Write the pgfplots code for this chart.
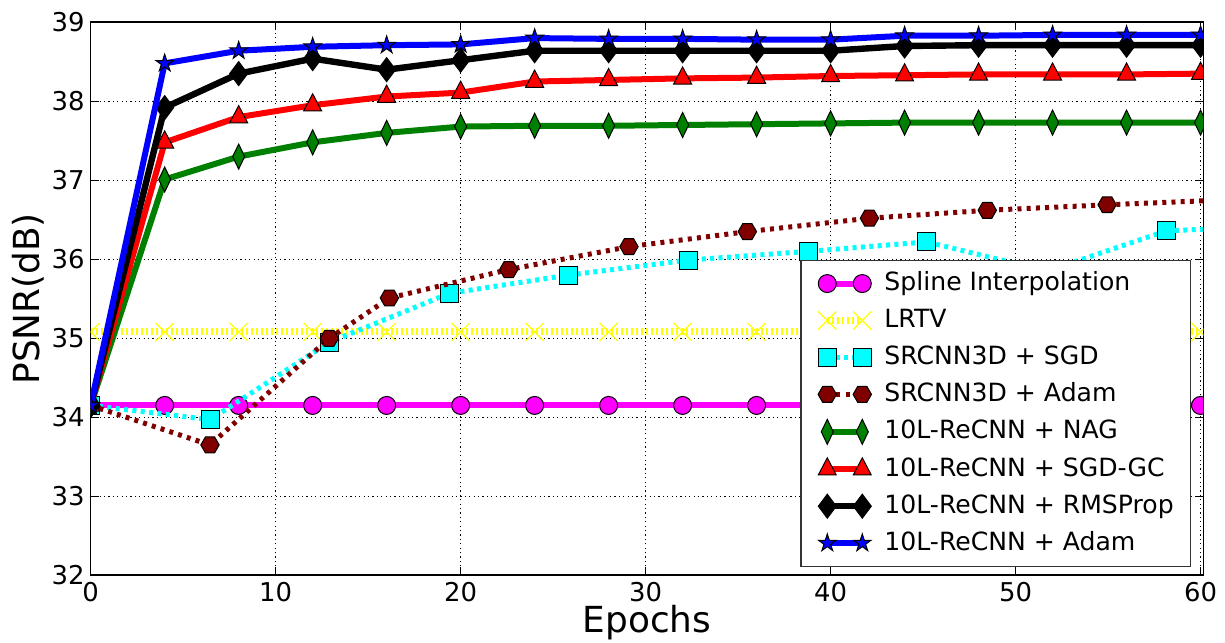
\documentclass[border=0pt]{standalone}
\usepackage{fontspec}
\setmainfont{DejaVu Sans}
\usepackage{pgfplots}
\pgfplotsset{compat=1.18}
\pgfdeclareplotmark{hexagon}{%
  \pgfpathmoveto{\pgfqpointpolar{0}{\pgfplotmarksize}}%
  \pgfpathlineto{\pgfqpointpolar{60}{\pgfplotmarksize}}%
  \pgfpathlineto{\pgfqpointpolar{120}{\pgfplotmarksize}}%
  \pgfpathlineto{\pgfqpointpolar{180}{\pgfplotmarksize}}%
  \pgfpathlineto{\pgfqpointpolar{240}{\pgfplotmarksize}}%
  \pgfpathlineto{\pgfqpointpolar{300}{\pgfplotmarksize}}%
  \pgfpathclose
  \pgfusepathqfillstroke}
\pgfdeclareplotmark{fstar}{%
  \pgfpathmoveto{\pgfqpointpolar{90}{\pgfplotmarksize}}%
  \pgfpathlineto{\pgfqpointpolar{126}{0.382\pgfplotmarksize}}%
  \pgfpathlineto{\pgfqpointpolar{162}{\pgfplotmarksize}}%
  \pgfpathlineto{\pgfqpointpolar{198}{0.382\pgfplotmarksize}}%
  \pgfpathlineto{\pgfqpointpolar{234}{\pgfplotmarksize}}%
  \pgfpathlineto{\pgfqpointpolar{270}{0.382\pgfplotmarksize}}%
  \pgfpathlineto{\pgfqpointpolar{306}{\pgfplotmarksize}}%
  \pgfpathlineto{\pgfqpointpolar{342}{0.382\pgfplotmarksize}}%
  \pgfpathlineto{\pgfqpointpolar{18}{\pgfplotmarksize}}%
  \pgfpathlineto{\pgfqpointpolar{54}{0.382\pgfplotmarksize}}%
  \pgfpathclose
  \pgfusepathqfillstroke}
\definecolor{maroon}{rgb}{0.5,0,0}
\definecolor{dgreen}{rgb}{0,0.5,0}
\definecolor{mpmagenta}{rgb}{1,0,1}
\definecolor{mpcyan}{rgb}{0,1,1}
\definecolor{mpyellow}{rgb}{1,1,0}
\definecolor{mpred}{rgb}{1,0,0}
\definecolor{mpblue}{rgb}{0,0,1}
\begin{document}
\begin{tikzpicture}
\begin{axis}[
  scale only axis,
  width=556.3bp, height=276.5bp,
  xmin=0, xmax=60.15, ymin=32, ymax=39,
  xtick={0,10,...,60}, ytick={32,...,39},
  tick align=inside, major tick length=4bp,
  xtick pos=both, ytick pos=both,
  axis line style={line width=0.8bp},
  grid=major,
  grid style={black, line width=0.4bp, dash pattern=on 0.6bp off 1.6bp},
  tick style={black, line width=0.5bp},
  /pgf/number format/assume math mode=true,
  ticklabel style={font=\fontsize{13}{15}\selectfont},
  xticklabel style={inner sep=0pt, anchor=north, yshift=-3.2bp},
  yticklabel style={inner sep=0pt, anchor=east, xshift=-2.9bp},
  xlabel={Epochs}, ylabel={PSNR(dB)},
  label style={font=\fontsize{18}{21}\selectfont, inner sep=0pt},
  xlabel style={at={(axis description cs:0.5,0)}, anchor=base, yshift=-28.85bp},
  ylabel style={at={(axis description cs:0,0.5)}, anchor=base, yshift=25.8bp},
  clip marker paths=true,
  legend cell align=left,
  legend image code/.code={\draw[mark repeat=2,mark phase=1,#1] plot coordinates {(0bp,0bp)(8.75bp,0bp)(17.5bp,0bp)};},
  legend style={at={(0.9892,0.5702)}, anchor=north east, draw=black!80, line width=0.6bp, fill=white,
    font=\fontsize{12.6}{15}\selectfont, row sep=6.47bp, inner xsep=8.5bp, inner ysep=5.5bp,
    nodes={inner sep=0pt, text height=9.5bp, text depth=2.5bp},
    /tikz/every odd column/.append style={column sep=6.5bp}},
]
% Spline Interpolation
\addplot[mpmagenta, line width=3bp, mark=*, mark size=4.5bp, mark options={fill=mpmagenta, draw=black, line width=0.5bp}]
 coordinates {(0,34.15)(4,34.15)(8,34.15)(12,34.15)(16,34.15)(20,34.15)(24,34.15)(28,34.15)(32,34.15)(36,34.15)(40,34.15)(44,34.15)(48,34.15)(52,34.15)(56,34.15)(60,34.15)};
\addlegendentry{Spline Interpolation}
% LRTV
\addplot[mpyellow, line width=3.5bp, dash pattern=on 1bp off 1.5bp, mark=x, mark size=6.4bp, mark options={solid, mpyellow, line width=0.6bp}]
 coordinates {(0,35.08)(4,35.08)(8,35.08)(12,35.08)(16,35.08)(20,35.08)(24,35.08)(28,35.08)(32,35.08)(36,35.08)(40,35.08)(44,35.08)(48,35.08)(52,35.08)(56,35.08)(60,35.08)};
\addlegendentry{LRTV}
% SRCNN3D + SGD
\addplot[mpcyan, line width=2.5bp, dash pattern=on 2bp off 2.2bp, mark=square*, mark size=4.5bp, mark options={solid, fill=mpcyan, draw=black, line width=0.5bp}]
 coordinates {(0,34.15)(6.46,33.97)(12.9,34.95)(19.4,35.57)(25.84,35.80)(32.3,35.99)(38.8,36.10)(45.2,36.22)(51.7,35.85)(58.16,36.36)};
\addlegendentry{SRCNN3D + SGD}
\addplot[mpcyan, line width=2.5bp, dash pattern=on 2bp off 2.2bp, forget plot] coordinates {(58.16,36.36)(60.15,36.38)};
% SRCNN3D + Adam
\addplot[maroon, line width=2.5bp, dash pattern=on 2bp off 2.6bp, mark=hexagon, mark size=4.6bp, mark options={solid, fill=maroon, draw=black, line width=0.5bp}]
 coordinates {(0,34.15)(6.45,33.65)(12.9,35.0)(16.15,35.51)(22.6,35.87)(29.1,36.16)(35.5,36.35)(42.1,36.52)(48.47,36.62)(54.95,36.69)};
\addlegendentry{SRCNN3D + Adam}
\addplot[maroon, line width=2.5bp, dash pattern=on 2bp off 2.6bp, forget plot] coordinates {(54.95,36.69)(60.15,36.74)};
% 10L-ReCNN + NAG
\addplot[dgreen, line width=3bp, mark=diamond*, mark size=6.25bp, mark options={xscale=0.64, fill=dgreen, draw=black, line width=0.5bp}]
 coordinates {(0,34.15)(4,37.01)(8,37.30)(12,37.48)(16,37.60)(20,37.68)(24,37.69)(28,37.69)(32,37.70)(36,37.71)(40,37.72)(44,37.73)(48,37.73)(52,37.73)(56,37.73)(60,37.73)};
\addlegendentry{10L-ReCNN + NAG}
% 10L-ReCNN + SGD-GC
\addplot[mpred, line width=3bp, mark=triangle*, mark size=5.2bp, mark options={yscale=1.1, fill=mpred, draw=black, line width=0.5bp}]
 coordinates {(0,34.15)(4,37.48)(8,37.80)(12,37.95)(16,38.06)(20,38.11)(24,38.25)(28,38.27)(32,38.29)(36,38.30)(40,38.32)(44,38.33)(48,38.34)(52,38.34)(56,38.34)(60,38.35)};
\addlegendentry{10L-ReCNN + SGD-GC}
% 10L-ReCNN + RMSProp
\addplot[black, line width=3.2bp, mark=diamond*, mark size=6bp, mark options={fill=black, draw=black, line width=0.5bp}]
 coordinates {(0,34.15)(4,37.92)(8,38.35)(12,38.54)(16,38.40)(20,38.52)(24,38.64)(28,38.64)(32,38.64)(36,38.64)(40,38.64)(44,38.70)(48,38.71)(52,38.71)(56,38.71)(60,38.71)};
\addlegendentry{10L-ReCNN + RMSProp}
% 10L-ReCNN + Adam
\addplot[mpblue, line width=3bp, mark=fstar, mark size=4.6bp, mark options={fill=mpblue, draw=black, line width=0.5bp}]
 coordinates {(0,34.15)(4,38.48)(8,38.64)(12,38.69)(16,38.71)(20,38.72)(24,38.80)(28,38.79)(32,38.79)(36,38.78)(40,38.78)(44,38.83)(48,38.83)(52,38.84)(56,38.84)(60,38.84)};
\addlegendentry{10L-ReCNN + Adam}
\end{axis}
\pgfresetboundingbox
\path[use as bounding box] ([xshift=-45.35bp,yshift=-33.85bp]current axis.south west) rectangle ([xshift=10.85bp,yshift=11.15bp]current axis.north east);
\end{tikzpicture}
\end{document}
